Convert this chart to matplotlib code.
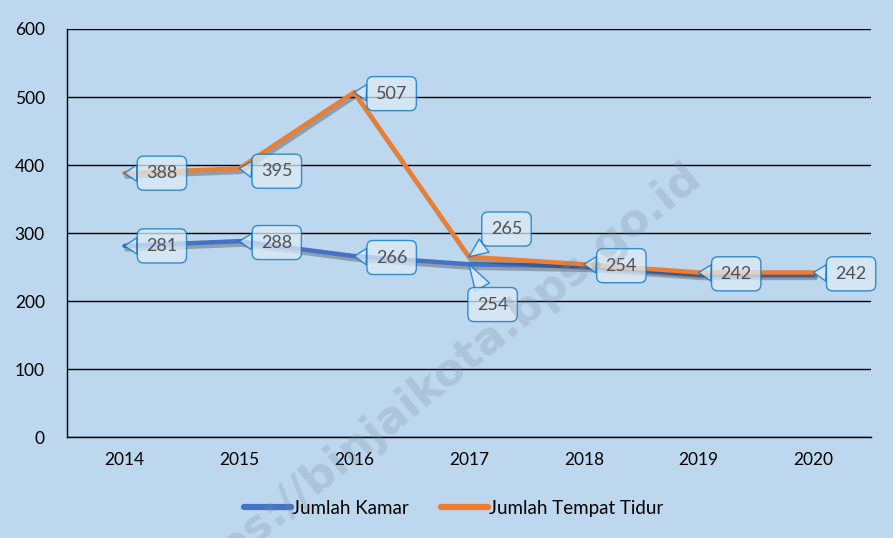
import matplotlib.pyplot as plt
import matplotlib.patheffects as pe

plt.rcParams['font.family'] = ['Lato', 'DejaVu Sans']

# data
years = ['2014', '2015', '2016', '2017', '2018', '2019', '2020']
kamar = [281, 288, 266, 254, 251, 239, 239]
tempat_tidur = [388, 395, 507, 265, 254, 242, 242]

# which points carry a visible label, and where the callout sits (offset in points)
kamar_labels = {0: (27, 0), 1: (27, -1), 2: (27, -1), 3: (17, -29)}
tidur_labels = {0: (27, 0), 1: (27, -2), 2: (27, -1), 3: (27, 20), 4: (27, -1), 5: (27, -1), 6: (27, -1)}

bg = '#BDD7EE'
blue = '#4472C4'
orange = '#ED7D31'

fig = plt.figure(figsize=(8.93, 5.38), dpi=100)
fig.patch.set_facecolor(bg)
ax = fig.add_axes([67 / 893, 1 - 437 / 538, (871 - 67) / 893, (437 - 29) / 538])
ax.set_facecolor(bg)

shadow = [pe.SimpleLineShadow(offset=(1.5, -2.5), alpha=0.3, shadow_color='#202020'), pe.Normal()]
x = range(len(years))
ax.plot(x, kamar, color=blue, lw=3.2, label='Jumlah Kamar', path_effects=shadow, solid_capstyle='round', zorder=3)
ax.plot(x, tempat_tidur, color=orange, lw=3.2, label='Jumlah Tempat Tidur', path_effects=shadow, solid_capstyle='round', zorder=4)

ax.set_xlim(-0.5, len(years) - 0.5)
ax.set_ylim(0, 600)
ax.set_yticks(range(0, 601, 100))
ax.set_xticks(list(x))
ax.set_xticklabels(years)
ax.tick_params(length=0, labelsize=12.5, colors='black', pad=11)
ax.tick_params(axis='y', pad=16)
ax.yaxis.grid(True, color='black', lw=1)
ax.set_axisbelow(True)
for s in ['top', 'right']:
    ax.spines[s].set_visible(False)
for s in ['left', 'bottom']:
    ax.spines[s].set_color('black')
    ax.spines[s].set_linewidth(1)


def callout(i, v, off):
    ax.annotate(str(v), xy=(i, v), xytext=off, textcoords='offset points',
                ha='center', va='center', fontsize=13, color='#505050', zorder=6,
                bbox=dict(boxstyle='round,pad=0.5,rounding_size=0.35', fc='#DDEBF7', ec='#0070C0', lw=1, alpha=0.75),
                arrowprops=dict(arrowstyle='wedge,tail_width=0.9', fc='#DDEBF7', ec='#0070C0', lw=1,
                                shrinkA=0, shrinkB=0, alpha=0.75))


for i, off in kamar_labels.items():
    callout(i, kamar[i], off)
for i, off in tidur_labels.items():
    callout(i, tempat_tidur[i], off)

leg = fig.legend(loc='lower center', bbox_to_anchor=(0.508, 0.008), ncol=2, frameon=False,
                 fontsize=13.5, handlelength=2.5, handletextpad=0.05, columnspacing=1.7)
for h in leg.get_lines():
    h.set_linewidth(4.5)
    h.set_path_effects([])

# watermark
fig.text(430 / 893, 1 - 385 / 538, 'https://binjaikota.bps.go.id', rotation=39, fontsize=32,
         family='DejaVu Sans', fontweight='bold', color='#7f8fa0', alpha=0.25,
         ha='center', va='center', zorder=10)

fig.savefig('out.png', dpi=100, facecolor=bg)
